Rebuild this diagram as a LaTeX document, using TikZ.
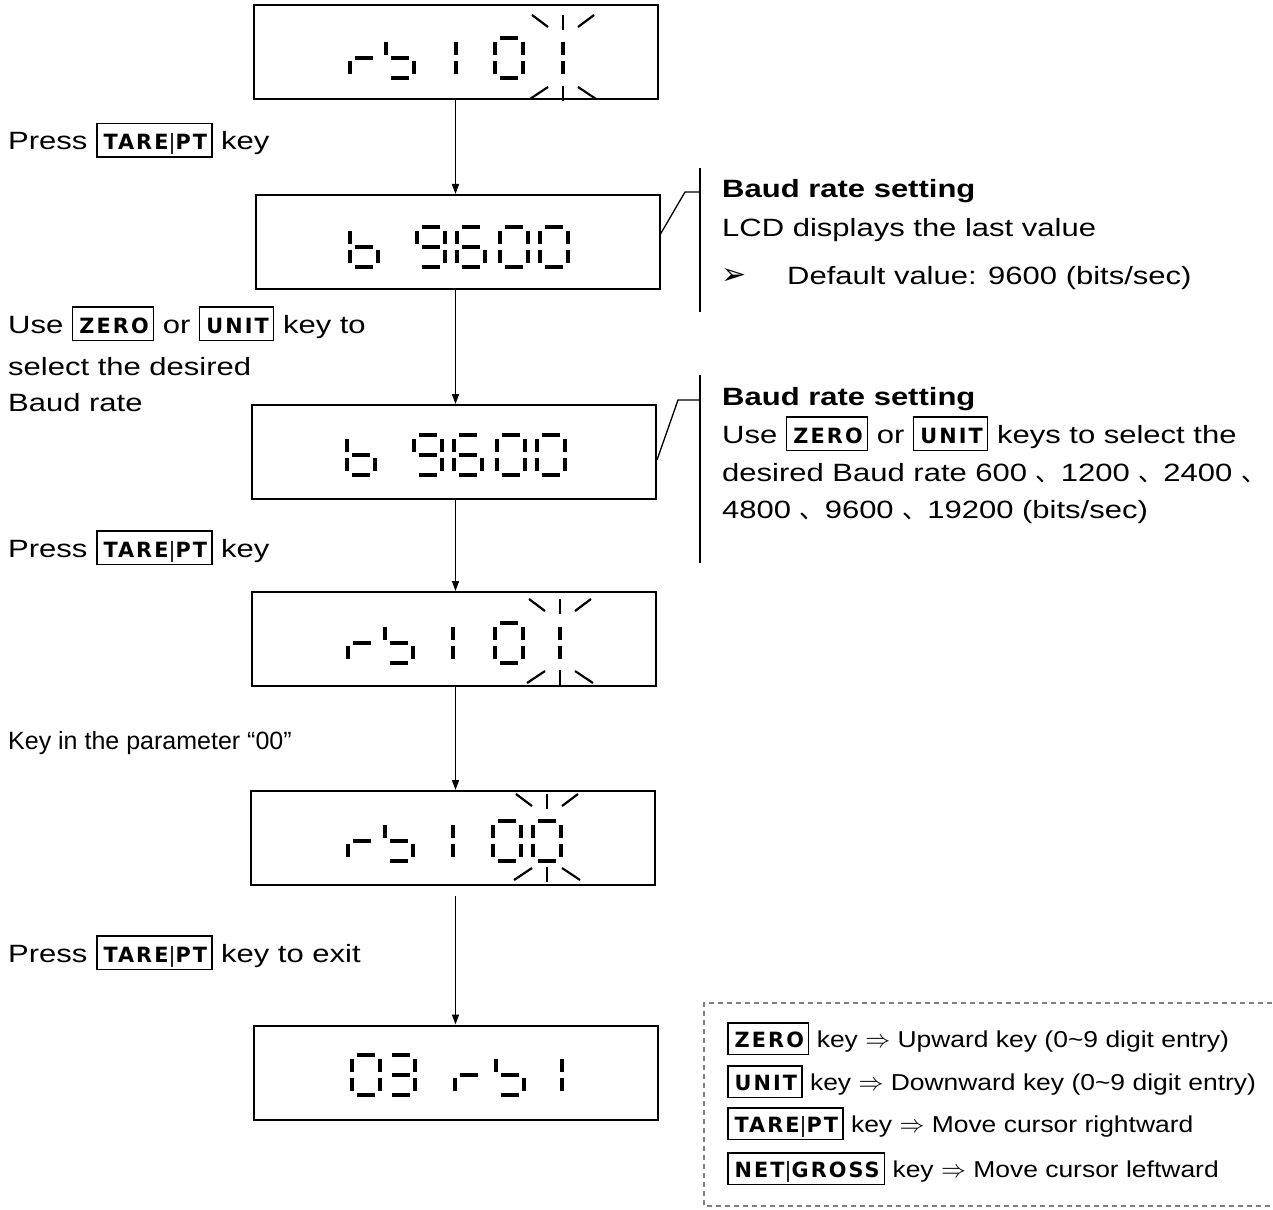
\documentclass[tikz,border=0pt]{standalone}
\usepackage{fontspec}
\setmainfont{Liberation Sans}[FakeStretch=1.24]
\newfontfamily\plainfont{Liberation Sans}
\newfontfamily\legfont{Liberation Sans}[FakeStretch=1.15]
\newfontfamily\keyfont{DejaVu Sans Condensed}[FakeStretch=1.1,LetterSpace=10]
\newfontfamily\symfont{DejaVu Sans}
\newfontfamily\cjk{Noto Sans CJK SC}
\usetikzlibrary{arrows.meta}
% seven segment pieces: #1 = cell left x, #2 = cell top y
\newcommand\LSa[2]{\draw[seg] (#1+5,#2) -- (#1+23,#2);}
\newcommand\LSb[2]{\draw[seg] (#1+28,#2+4) -- (#1+28,#2+17);}
\newcommand\LSc[2]{\draw[seg] (#1+28,#2+23) -- (#1+28,#2+36);}
\newcommand\LSd[2]{\draw[seg] (#1+5,#2+40) -- (#1+23,#2+40);}
\newcommand\LSe[2]{\draw[seg] (#1,#2+23) -- (#1,#2+36);}
\newcommand\LSf[2]{\draw[seg] (#1,#2+4) -- (#1,#2+17);}
\newcommand\LSg[2]{\draw[seg] (#1+5,#2+20) -- (#1+23,#2+20);}
\newcommand\lcddigit[3]{\foreach \s in {#3}{\csname LS\s\endcsname{#1}{#2}}}
\newcommand\blink[3]{%
  \draw[ray] (#1,#2) -- (#1,#2+15);
  \draw[ray] (#1-31,#2) -- (#1-15,#2+12);
  \draw[ray] (#1+15,#2+12) -- (#1+31,#2);
  \draw[ray] (#1,#3-15) -- (#1,#3);
  \draw[ray] (#1-33,#3-2) -- (#1-15,#3-14);
  \draw[ray] (#1+15,#3-14) -- (#1+33,#3-2);}
\newcommand\kbox[3]{{\setlength\fboxsep{0pt}\setlength\fboxrule{1.5pt}\fbox{\rule[-#2]{0pt}{#1}\hspace{6pt}{\keyfont\bfseries\fontsize{21}{21}\selectfont #3}\hspace{4pt}}}}
\newcommand\kb[1]{\kbox{32pt}{6.5pt}{#1}}
\newcommand\kl[1]{\kbox{30pt}{6.5pt}{#1}}
\newcommand\kbar{{\mdseries|}}
\newcommand\dun{{\cjk 、}}
\begin{document}
\begin{tikzpicture}[x=1pt,y=-1pt,
  seg/.style={line width=4pt,line cap=butt},
  ray/.style={line width=2.2pt,line cap=butt},
  disp/.style={draw,line width=2pt,minimum width=404pt,minimum height=94pt,inner sep=0pt},
  arr/.style={line width=1.6pt,-{Triangle[length=10pt,width=7pt]}},
  call/.style={line width=1.3pt},
  vbar/.style={line width=1.8pt},
  txt/.style={anchor=base west,inner sep=0pt,font=\fontsize{25}{30}\selectfont},
  btxt/.style={anchor=base west,inner sep=0pt,font=\fontsize{25}{30}\selectfont\bfseries},
  ltxt/.style={anchor=base west,inner sep=0pt,font=\legfont\fontsize{23}{28}\selectfont}]
\useasboundingbox (0,0) rectangle (1273,1209);

% display boxes
\node[disp] (d1) at (455.5,52) {};
\node[disp] (d2) at (457.5,242) {};
\node[disp] (d3) at (454,452) {};
\node[disp] (d4) at (453.5,639) {};
\node[disp] (d5) at (453,838) {};
\node[disp] (d6) at (455.5,1072.5) {};

% display 1: rb 101 (last digit blinking)
\lcddigit{350}{38}{e,g}
\lcddigit{386}{38}{f,g,c,d}
\lcddigit{428}{38}{b,c}
\lcddigit{495}{38}{a,b,c,d,e,f}
\lcddigit{535}{38}{b,c}
\blink{563}{15}{101}

% display 2: b 9600
\lcddigit{350}{227}{f,e,d,c,g}
\lcddigit{417}{227}{a,b,c,d,f,g}
\lcddigit{457}{227}{a,f,g,e,d,c}
\lcddigit{500}{227}{a,b,c,d,e,f}
\lcddigit{540}{227}{a,b,c,d,e,f}

% display 3: b 9600
\lcddigit{347}{435}{f,e,d,c,g}
\lcddigit{414}{435}{a,b,c,d,f,g}
\lcddigit{454}{435}{a,f,g,e,d,c}
\lcddigit{497}{435}{a,b,c,d,e,f}
\lcddigit{537}{435}{a,b,c,d,e,f}

% display 4: rb 101
\lcddigit{348}{623}{e,g}
\lcddigit{385}{623}{f,g,c,d}
\lcddigit{425}{623}{b,c}
\lcddigit{495}{623}{a,b,c,d,e,f}
\lcddigit{532}{623}{b,c}
\blink{560}{599}{685}

% display 5: rb 100
\lcddigit{348}{821}{e,g}
\lcddigit{385}{821}{f,g,c,d}
\lcddigit{425}{821}{b,c}
\lcddigit{493}{821}{a,b,c,d,e,f}
\lcddigit{533}{821}{a,b,c,d,e,f}
\blink{547}{794}{882}

% display 6: 03 rb1
\lcddigit{352}{1055}{a,b,c,d,e,f}
\lcddigit{387}{1055}{a,b,g,c,d}
\lcddigit{455}{1055}{e,g}
\lcddigit{496}{1055}{f,g,c,d}
\lcddigit{534}{1055}{b,c}

% flow arrows
\draw[arr] (d1.south) -- (d1.south |- d2.north);
\draw[arr] (d2.south -| d1.south) -- (d1.south |- d3.north);
\draw[arr] (d3.south -| d1.south) -- (d1.south |- d4.north);
\draw[arr] (d4.south -| d1.south) -- (d1.south |- d5.north);
\draw[arr] ([yshift=-10pt]d5.south -| d1.south) -- (d1.south |- d6.north);

% left step texts
\node[txt] (t1) at (8,150) {Press \kb{TARE\kbar PT} key};
\node[txt] (t2) at (8,333) {Use \kb{ZERO} or \kb{UNIT} key to};
\node[txt] (t3) at (8,375) {select the desired};
\node[txt] (t4) at (8,411) {Baud rate};
\node[txt] (t5) at (8,557) {Press \kb{TARE\kbar PT} key};
\node[txt,font=\plainfont\fontsize{25}{30}\selectfont] (t6) at (8,749) {Key in the parameter “00”};
\node[txt] (t7) at (8,962) {Press \kb{TARE\kbar PT} key to exit};

% callout 1
\coordinate (b1t) at (700,168);
\coordinate (b1b) at (700,312);
\coordinate (k1) at (685,192);
\draw[vbar] (b1t) -- (b1b);
\draw[call] ([yshift=8pt]d2.east) -- (k1) -- (k1 -| b1t);
\node[btxt] (r1) at (722,197) {Baud rate setting};
\node[txt] (r2) at (722,236) {LCD displays the last value};
\node[txt] (r3) at (721,284) {\symfont\fontsize{30}{30}\selectfont ➢};
\node[txt] (r4) at (787,284) {Default value: 9600 (bits/sec)};

% callout 2
\coordinate (b2t) at (700,375);
\coordinate (b2b) at (700,563);
\coordinate (k2) at (678,400);
\draw[vbar] (b2t) -- (b2b);
\draw[call] ([yshift=-8pt]d3.east) -- (k2) -- (k2 -| b2t);
\node[btxt] (r5) at (722,405) {Baud rate setting};
\node[txt] (r6) at (722,443) {Use \kb{ZERO} or \kb{UNIT} keys to select the};
\node[txt] (r7) at (722,481) {desired Baud rate 600 \dun1200 \dun2400 \dun};
\node[txt] (r8) at (722,518) {4800 \dun9600 \dun19200 (bits/sec)};

% legend
\draw[gray,line width=1.2pt,dash pattern=on 5pt off 4pt] (1290,1003) -- (704,1003) -- (704,1206) -- (1290,1206);
\node[ltxt] (g1) at (727,1047) {\kl{ZERO} key $\Rightarrow$ Upward key (0\textasciitilde9 digit entry)};
\node[ltxt] (g2) at (727,1090) {\kl{UNIT} key $\Rightarrow$ Downward key (0\textasciitilde9 digit entry)};
\node[ltxt] (g3) at (727,1132) {\kl{TARE\kbar PT} key $\Rightarrow$ Move cursor rightward};
\node[ltxt] (g4) at (727,1177) {\kl{NET\kbar GROSS} key $\Rightarrow$ Move cursor leftward};
\end{tikzpicture}
\end{document}
